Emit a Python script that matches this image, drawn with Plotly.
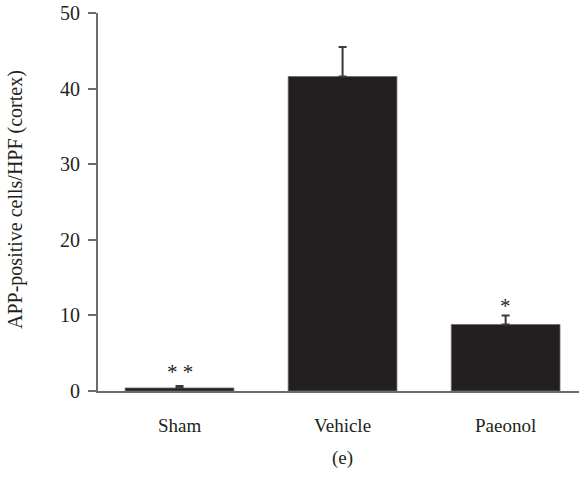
import plotly.graph_objects as go

categories = ["Sham", "Vehicle", "Paeonol"]
means = [0.4, 41.6, 8.8]
errors = [0.25, 3.9, 1.2]
significance = ["* *", "", "*"]
y_ticks = [0, 10, 20, 30, 40, 50]

FONT = "Liberation Serif"
W, H = 579, 478
L, R, T, B = 98, 0, 13, 87
PW, PH = W - L - R, H - T - B


def px_to_paper(xp, yp):
    return (xp - L) / PW, (H - B - yp) / PH


fig = go.Figure()
fig.add_trace(go.Bar(
    x=categories, y=means,
    width=0.667,
    marker=dict(color="#231f20", line=dict(color="#6b6b6b", width=0.8)),
    error_y=dict(type="data", symmetric=False, array=errors, arrayminus=[0, 0, 0],
                 color="#3a3a3a", thickness=2, width=4),
    hoverinfo="skip",
))

for i, (c, m, e, s) in enumerate(zip(categories, means, errors, significance)):
    if s:
        fig.add_annotation(x=c, y=m + e, text=s, showarrow=False,
                           xref="x", yref="y", yanchor="bottom",
                           yshift=(0 if len(s) > 1 else -5),
                           font=dict(family=FONT, size=21, color="#231f20"))

ex, ey = px_to_paper(342, 458)
fig.add_annotation(x=ex, y=ey, xref="paper", yref="paper", text="(e)",
                   xanchor="center", yanchor="middle",
                   showarrow=False, font=dict(family=FONT, size=19, color="#231f20"))

tx, ty = px_to_paper(16, 200)
fig.add_annotation(x=tx, y=ty, xref="paper", yref="paper",
                   text="APP-positive cells/HPF (cortex)", textangle=-90,
                   xanchor="center", yanchor="middle",
                   showarrow=False, font=dict(family=FONT, size=20, color="#231f20"))

fig.update_layout(
    width=W, height=H,
    margin=dict(l=L, r=R, t=T, b=B, pad=0, autoexpand=False),
    plot_bgcolor="white", paper_bgcolor="white",
    showlegend=False,
    font=dict(family=FONT, size=19, color="#231f20"),
    xaxis=dict(range=[-0.5, 2.45], showline=True, linecolor="#6b6b6b", linewidth=2,
               ticks="", showgrid=False, zeroline=False, automargin=False,
               ticklabelstandoff=16,
               tickfont=dict(family=FONT, size=19, color="#231f20")),
    yaxis=dict(range=[0, 50], tickvals=y_ticks, showline=True, linecolor="#6b6b6b",
               linewidth=2, ticks="outside", ticklen=8, tickwidth=1.5, tickcolor="#6b6b6b",
               showgrid=False, zeroline=False, automargin=False,
               ticklabelstandoff=4,
               tickfont=dict(family=FONT, size=20, color="#231f20")),
)
fig.write_html("out.html", config={"displayModeBar": False},
               post_script="document.body.style.margin='0';")
